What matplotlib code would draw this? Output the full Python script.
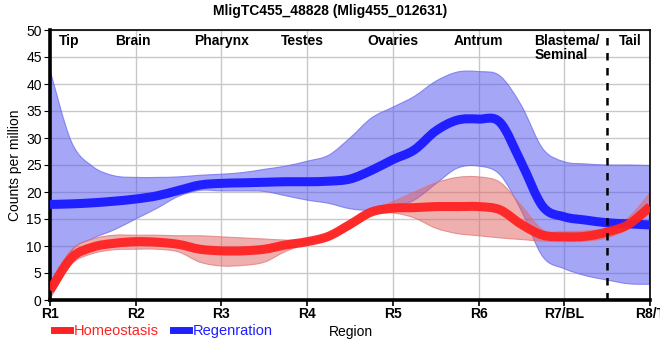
import numpy as np
import matplotlib
matplotlib.use("Agg")
import matplotlib.pyplot as plt
from matplotlib.lines import Line2D
from matplotlib.path import Path
from matplotlib.patches import PathPatch

plt.rcParams['font.family'] = ['Liberation Sans', 'DejaVu Sans']

# positions along the body, 1 = R1 ... 8 = R8/T, read every quarter step
pos = [1, 1.25, 1.5, 1.75, 2, 2.25, 2.5, 2.75, 3, 3.25, 3.5, 3.75, 4, 4.25, 4.5,
       4.75, 5, 5.25, 5.5, 5.75, 6, 6.25, 6.5, 6.75, 7, 7.25, 7.5, 7.75, 8]

# Regeneration (blue)
reg_mean = [17.7, 17.8, 18.0, 18.3, 18.7, 19.3, 20.3, 21.3, 21.6, 21.7, 21.8, 21.9, 21.9, 22.0, 22.4,
            24.0, 26.0, 27.8, 31.3, 33.3, 33.5, 32.9, 25.4, 17.3, 15.4, 14.8, 14.3, 14.1, 13.9]
reg_hi = [42.6, 29.3, 24.7, 23.0, 22.7, 22.7, 22.8, 23.1, 23.3, 23.6, 24.2, 24.8, 25.7, 26.8, 30.0,
          33.7, 35.7, 37.7, 40.5, 42.2, 42.3, 41.5, 36.0, 28.0, 25.6, 25.2, 25.0, 25.0, 24.9]
reg_lo = [0.3, 9.0, 11.4, 13.0, 15.0, 17.0, 19.2, 20.3, 20.2, 20.2, 20.1, 19.3, 18.5, 17.9, 16.9,
          16.6, 17.2, 18.5, 21.5, 24.4, 24.8, 23.2, 16.5, 8.0, 5.8, 4.5, 3.7, 3.0, 2.9]

# Homeostasis (red)
hom_mean = [1.8, 7.8, 9.8, 10.5, 10.8, 10.7, 10.3, 9.4, 9.1, 9.1, 9.4, 10.2, 10.8, 11.8, 14.0,
            16.3, 17.0, 17.1, 17.3, 17.3, 17.3, 16.7, 14.0, 12.0, 11.7, 11.8, 12.6, 14.0, 17.3]
hom_hi = [3.2, 9.3, 11.3, 12.0, 12.0, 12.0, 11.9, 11.9, 11.7, 11.5, 11.3, 11.1, 11.1, 12.2, 14.4,
          16.8, 18.2, 20.0, 21.7, 22.7, 22.8, 21.8, 17.5, 13.0, 12.7, 12.8, 13.3, 15.3, 19.8]
hom_lo = [0.2, 6.6, 8.6, 9.3, 9.4, 9.4, 8.9, 7.0, 6.3, 6.4, 7.0, 9.0, 10.4, 11.4, 13.2,
          15.8, 16.1, 15.2, 13.3, 12.3, 11.9, 11.5, 11.2, 10.9, 10.8, 10.9, 11.5, 13.2, 16.0]

xticks = [1, 2, 3, 4, 5, 6, 7, 8]
xlabels = ['R1', 'R2', 'R3', 'R4', 'R5', 'R6', 'R7/BL', 'R8/T']
regions = ['Tip', 'Brain', 'Pharynx', 'Testes', 'Ovaries', 'Antrum', 'Blastema/\nSeminal', 'Tail']
region_x = [1.1, 1.97, 3.0, 3.95, 5.0, 6.0, 6.65, 7.77]
region_ha = ['left', 'center', 'center', 'center', 'center', 'center', 'left', 'center']

blue = '#1f1fff'
red = '#ff2222'


# smooth curve through the read points (Catmull-Rom drawn as cubic Bezier)
def smooth_verts(xs, ys):
    p = np.column_stack([xs, ys]).astype(float)
    ext = np.vstack([p[0], p, p[-1]])
    verts = [p[0]]
    for i in range(len(p) - 1):
        p0, p1, p2, p3 = ext[i], ext[i + 1], ext[i + 2], ext[i + 3]
        verts += [p1 + (p2 - p0) / 6, p2 - (p3 - p1) / 6, p2]
    codes = [Path.MOVETO] + [Path.CURVE4] * (len(verts) - 1)
    return verts, codes


def smooth_line(ax, xs, ys, **kw):
    v, c = smooth_verts(xs, ys)
    ax.add_patch(PathPatch(Path(v, c), fill=False, **kw))


def smooth_band(ax, xs, lo, hi, **kw):
    vh, ch = smooth_verts(xs, hi)
    vl, cl = smooth_verts(xs[::-1], lo[::-1])
    verts = vh + vl + [vh[0]]
    codes = ch + [Path.LINETO] + cl[1:] + [Path.CLOSEPOLY]
    ax.add_patch(PathPatch(Path(verts, codes), **kw))


fig = plt.figure(figsize=(6.6, 3.6), dpi=100)
ax = fig.add_axes([50 / 660, 60 / 360, 600 / 660, 270 / 360])

smooth_band(ax, pos, reg_lo, reg_hi, facecolor=(0.31, 0.31, 0.94, 0.5), edgecolor=(0.4, 0.4, 0.93, 0.7), lw=0.8, zorder=2)
smooth_band(ax, pos, hom_lo, hom_hi, facecolor=(0.88, 0.38, 0.38, 0.5), edgecolor=(0.88, 0.45, 0.45, 0.7), lw=0.8, zorder=2)
smooth_line(ax, pos, reg_mean, edgecolor=blue, lw=6.5, capstyle='butt', zorder=3)
smooth_line(ax, pos, hom_mean, edgecolor=red, lw=6.5, alpha=0.95, capstyle='butt', zorder=4)

ax.axvline(7.5, color='black', ls=(0, (3, 3)), lw=1.8, zorder=5)

ax.set_xlim(1, 8)
ax.set_ylim(0, 50)
ax.set_xticks(xticks)
ax.set_xticklabels(xlabels, fontsize=10, fontweight='bold')
ax.set_yticks(np.arange(0, 51, 5))
ax.tick_params(axis='y', labelsize=10, length=4, pad=2)
ax.tick_params(axis='x', length=4, width=1.2, pad=1)
ax.grid(True, color='#c8c8c8', lw=1)
ax.set_axisbelow(True)
for s in ['top', 'right']:
    ax.spines[s].set_linewidth(1.2)
for s in ['left', 'bottom']:
    ax.spines[s].set_linewidth(2.6)

for name, rx, ha in zip(regions, region_x, region_ha):
    ax.text(rx, 49.3, name, ha=ha, va='top', fontsize=10, fontweight='bold', linespacing=1.05)

ax.set_ylabel('Counts per million', fontsize=10, labelpad=3)
fig.suptitle('MligTC455_48828 (Mlig455_012631)', x=0.5, y=0.99, fontsize=10, fontweight='bold')
fig.text(351 / 660, 0.077, 'Region', ha='center', va='center', fontsize=10)

handles = [Line2D([], [], color=red, lw=5), Line2D([], [], color=blue, lw=5)]
fig.legend(handles, ['Homeostasis', 'Regenration'], loc='center left',
           bbox_to_anchor=(54 / 660, 0.08), ncol=2, frameon=False, fontsize=10.5,
           handlelength=1.1, handletextpad=0.25, columnspacing=1.0, labelcolor='linecolor',
           borderpad=0, borderaxespad=0)

fig.savefig('out.png', dpi=100)
